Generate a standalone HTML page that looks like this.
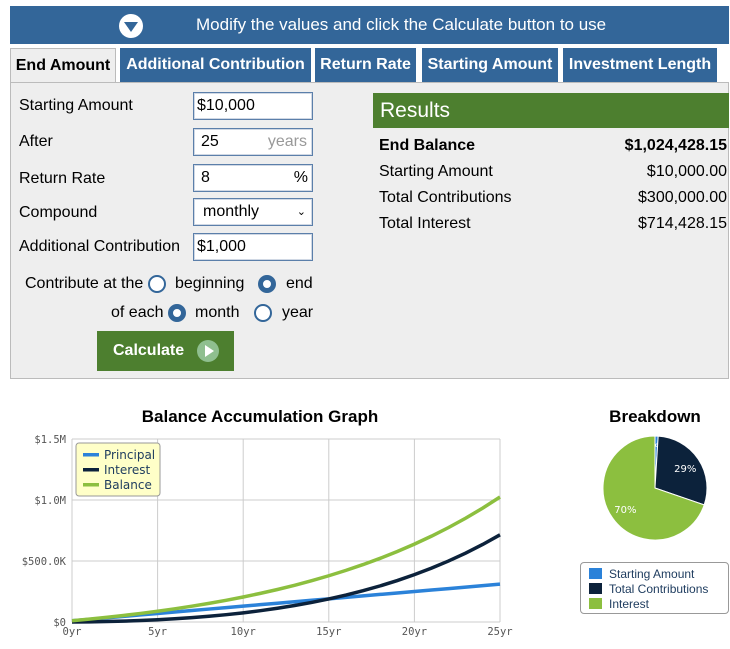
<!DOCTYPE html>
<html><head><meta charset="utf-8"><style>
body{margin:0;width:730px;height:649px;background:#fff;font-family:"Liberation Sans",Arial,sans-serif;position:relative;overflow:hidden}
.abs{position:absolute}
.hdr{left:10px;top:6px;width:719px;height:38px;background:#336699;color:#fff;font-size:17px;line-height:38px}
.tab{top:48px;height:34px;background:#336699;color:#fff;font-weight:bold;font-size:16px;line-height:34px;text-align:center}
.panel{left:10px;top:82px;width:719px;height:297px;background:#eee;border:1px solid #bbb;box-sizing:border-box}
.lbl{font-size:16px;color:#000}
.inp{background:#fff;border:1px solid #5b7faa;box-shadow:inset 0 0 0 1px #d0d8e4;height:28px;box-sizing:border-box;font-size:16px;line-height:26px;padding-left:3px}
.radio{width:18px;height:18px;border-radius:50%;border:2px solid #336699;box-sizing:border-box;background:#fff}
.radio.on{border:5px solid #336699}
.rr{font-size:16px}
</style></head><body>
<div class="abs hdr">
 <svg class="abs" style="left:108px;top:7px" width="26" height="26"><circle cx="13" cy="13" r="12" fill="#fff"/><polygon points="6,9 20,9 13,19" fill="#336699"/></svg>
 <span class="abs" style="left:186px;top:0">Modify the values and click the Calculate button to use</span>
</div>
<div class="abs tab" style="left:10px;width:106px;background:#eee;color:#000;border:1px solid #bbb;border-bottom:none;box-sizing:border-box">End Amount</div>
<div class="abs tab" style="left:120px;width:191px">Additional Contribution</div>
<div class="abs tab" style="left:315px;width:101px">Return Rate</div>
<div class="abs tab" style="left:422px;width:136px">Starting Amount</div>
<div class="abs tab" style="left:563px;width:154px">Investment Length</div>
<div class="abs panel"></div>
<div class="abs lbl" style="left:19px;top:97px">Starting Amount</div>
<div class="abs inp" style="left:193px;top:92px;width:120px">$10,000</div>
<div class="abs lbl" style="left:19px;top:133px">After</div>
<div class="abs inp" style="left:193px;top:128px;width:120px;padding-left:7px">25<span style="position:absolute;right:5px;color:#999">years</span></div>
<div class="abs lbl" style="left:19px;top:170px">Return Rate</div>
<div class="abs inp" style="left:193px;top:164px;width:120px;padding-left:7px">8<span style="position:absolute;right:4px">%</span></div>
<div class="abs lbl" style="left:19px;top:204px">Compound</div>
<div class="abs inp" style="left:193px;top:198px;width:120px;padding-left:9px">monthly<span style="position:absolute;right:6px;font-size:11px">&#8964;</span></div>
<div class="abs lbl" style="left:19px;top:238px">Additional Contribution</div>
<div class="abs inp" style="left:193px;top:233px;width:120px">$1,000</div>
<div class="abs rr" style="left:25px;top:275px">Contribute at the</div>
<div class="abs radio" style="left:148px;top:275px"></div>
<div class="abs rr" style="left:175px;top:275px">beginning</div>
<div class="abs radio on" style="left:258px;top:275px"></div>
<div class="abs rr" style="left:286px;top:275px">end</div>
<div class="abs rr" style="left:111px;top:304px">of each</div>
<div class="abs radio on" style="left:168px;top:304px"></div>
<div class="abs rr" style="left:195px;top:304px">month</div>
<div class="abs radio" style="left:254px;top:304px"></div>
<div class="abs rr" style="left:282px;top:304px">year</div>
<div class="abs" style="left:97px;top:331px;width:137px;height:40px;background:#4d7f2f;color:#fff;font-weight:bold;font-size:16px;line-height:40px"><span style="margin-left:16px">Calculate</span>
 <svg class="abs" style="left:100px;top:9px" width="22" height="22"><circle cx="11" cy="11" r="11" fill="#8fbf8f"/><polygon points="8,5 17,11 8,17" fill="#fff"/></svg></div>

<div class="abs" style="left:373px;top:93px;width:356px;height:35px;background:#4d7f2f;color:#fff;font-size:21px;line-height:35px;padding-left:7px;box-sizing:border-box">Results</div>
<div class="abs" style="left:379px;top:133px;width:348px;font-size:16px;line-height:26px">
 <div style="font-weight:bold">End Balance<span style="float:right">$1,024,428.15</span></div>
 <div>Starting Amount<span style="float:right">$10,000.00</span></div>
 <div>Total Contributions<span style="float:right">$300,000.00</span></div>
 <div>Total Interest<span style="float:right">$714,428.15</span></div>
</div>

<div class="abs" style="left:0;top:407px;width:520px;text-align:center;font-weight:bold;font-size:17px">Balance Accumulation Graph</div>
<svg id="chart" class="abs" style="left:0;top:0" width="730" height="649"></svg>
<div class="abs" style="left:570px;top:407px;width:170px;text-align:center;font-weight:bold;font-size:17px">Breakdown</div>
<svg id="pie" class="abs" style="left:590px;top:424px" width="130" height="130"></svg>
<div class="abs" style="left:580px;top:562px;width:149px;height:52px;border:1px solid #999;border-radius:4px;box-sizing:border-box;font-size:12px;color:#1d3b5e;line-height:15px;padding:4px 0 0 8px">
 <div><span style="display:inline-block;width:13px;height:11px;background:#2b82d9;margin-right:7px;vertical-align:-1px"></span>Starting Amount</div>
 <div><span style="display:inline-block;width:13px;height:11px;background:#0c223b;margin-right:7px;vertical-align:-1px"></span>Total Contributions</div>
 <div><span style="display:inline-block;width:13px;height:11px;background:#8cbf3f;margin-right:7px;vertical-align:-1px"></span>Interest</div>
</div>
<script>
const years=[0,1,2,3,4,5,6,7,8,9,10,11,12,13,14,15,16,17,18,19,20,21,22,23,24,25];
const principal=[10000,22000,34000,46000,58000,70000,82000,94000,106000,118000,130000,142000,154000,166000,178000,190000,202000,214000,226000,238000,250000,262000,274000,286000,298000,310000];
const balance=[10000,23280,37662,53238,70107,88376,108160,129587,152794,177925,205142,234619,266542,301115,338557,379107,423022,470584,522091,577875,638288,703717,774574,851315,934424,1024428];
const interest=balance.map((b,i)=>b-principal[i]);
const yTicks=[0,500000,1000000,1500000];
const yTickLabels=["$0","$500.0K","$1.0M","$1.5M"];
const xTicks=[0,5,10,15,20,25];
const xTickLabels=["0yr","5yr","10yr","15yr","20yr","25yr"];
const pieLabels=["Starting Amount","Total Contributions","Interest"];
const pieValues=[10000,300000,714428];
const pieColors=["#2b82d9","#0c223b","#8cbf3f"];
const NS="http://www.w3.org/2000/svg";
const X0=72,X1=500,Y0=622,Y1=439;
const xs=v=>X0+(v/25)*(X1-X0);
const ys=v=>Y0-(v/1500000)*(Y0-Y1);
const svg=document.getElementById('chart');
function mk(t,a,p){const e=document.createElementNS(NS,t);for(const k in a)e.setAttribute(k,a[k]);(p||svg).appendChild(e);return e;}
yTicks.forEach((v,i)=>{
 const l=mk('line',{x1:X0,x2:X1,y1:ys(v),y2:ys(v),stroke:'#ccc','stroke-width':1});
 
 
 const t=mk('text',{x:X0-6,y:ys(v)+4,'text-anchor':'end','font-size':10.5,fill:'#555','font-family':'DejaVu Sans Mono, monospace'});
 t.textContent=yTickLabels[i];
 
 
});
xTicks.forEach((v,i)=>{
 const l=mk('line',{x1:xs(v),x2:xs(v),y1:Y1,y2:Y0,stroke:'#ccc','stroke-width':1});
 
 
 const t=mk('text',{x:xs(v),y:Y0+13,'text-anchor':'middle','font-size':10.5,fill:'#555','font-family':'DejaVu Sans Mono, monospace'});
 t.textContent=xTickLabels[i];
 
 
});
const series=[["principal-line",principal,"#2b82d9"],["interest-line",interest,"#0c223b"],["balance-line",balance,"#8cbf3f"]];
series.forEach(s=>{
 const p=mk('polyline',{points:years.map((y,i)=>xs(y)+','+ys(s[1][i])).join(' '),fill:'none',stroke:s[2],'stroke-width':3.5});
 
 
});
const lg=mk('g',{});


mk('rect',{x:76,y:443,width:84,height:53,rx:3,fill:'#ffffc8',stroke:'#999'},lg);
[["Principal","#2b82d9"],["Interest","#0c223b"],["Balance","#8cbf3f"]].forEach((e,i)=>{
 mk('rect',{x:83,y:453+i*15,width:16,height:3.5,fill:e[1]},lg);
 const t=mk('text',{x:104,y:459+i*15,'font-size':12,fill:'#1d3b5e','font-family':'DejaVu Sans, sans-serif'},lg);
 t.textContent=e[0];
});
const pie=document.getElementById('pie');
const cx=65,cy=64,r=52;
const total=pieValues.reduce((a,b)=>a+b,0);
let ang=0;
pieValues.forEach((v,i)=>{
 const a0=ang,a1=ang+v/total*2*Math.PI;ang=a1;
 const p0=[cx+r*Math.sin(a0),cy-r*Math.cos(a0)],p1=[cx+r*Math.sin(a1),cy-r*Math.cos(a1)];
 const s=mk('path',{d:`M${cx},${cy}L${p0[0]},${p0[1]}A${r},${r} 0 ${a1-a0>Math.PI?1:0} 1 ${p1[0]},${p1[1]}Z`,fill:pieColors[i],stroke:'#fff','stroke-width':1},pie);
 
 
 const m=(a0+a1)/2,rr=i==0?r*0.8:r*0.7;
 const t=mk('text',{x:cx+rr*Math.sin(m),y:cy-rr*Math.cos(m)+4,'text-anchor':'middle','font-size':10,fill:'#fff','font-family':'DejaVu Sans, sans-serif'},pie);
 t.textContent=Math.round(v/total*100)+'%';
 
 
});
</script>
</body></html>
